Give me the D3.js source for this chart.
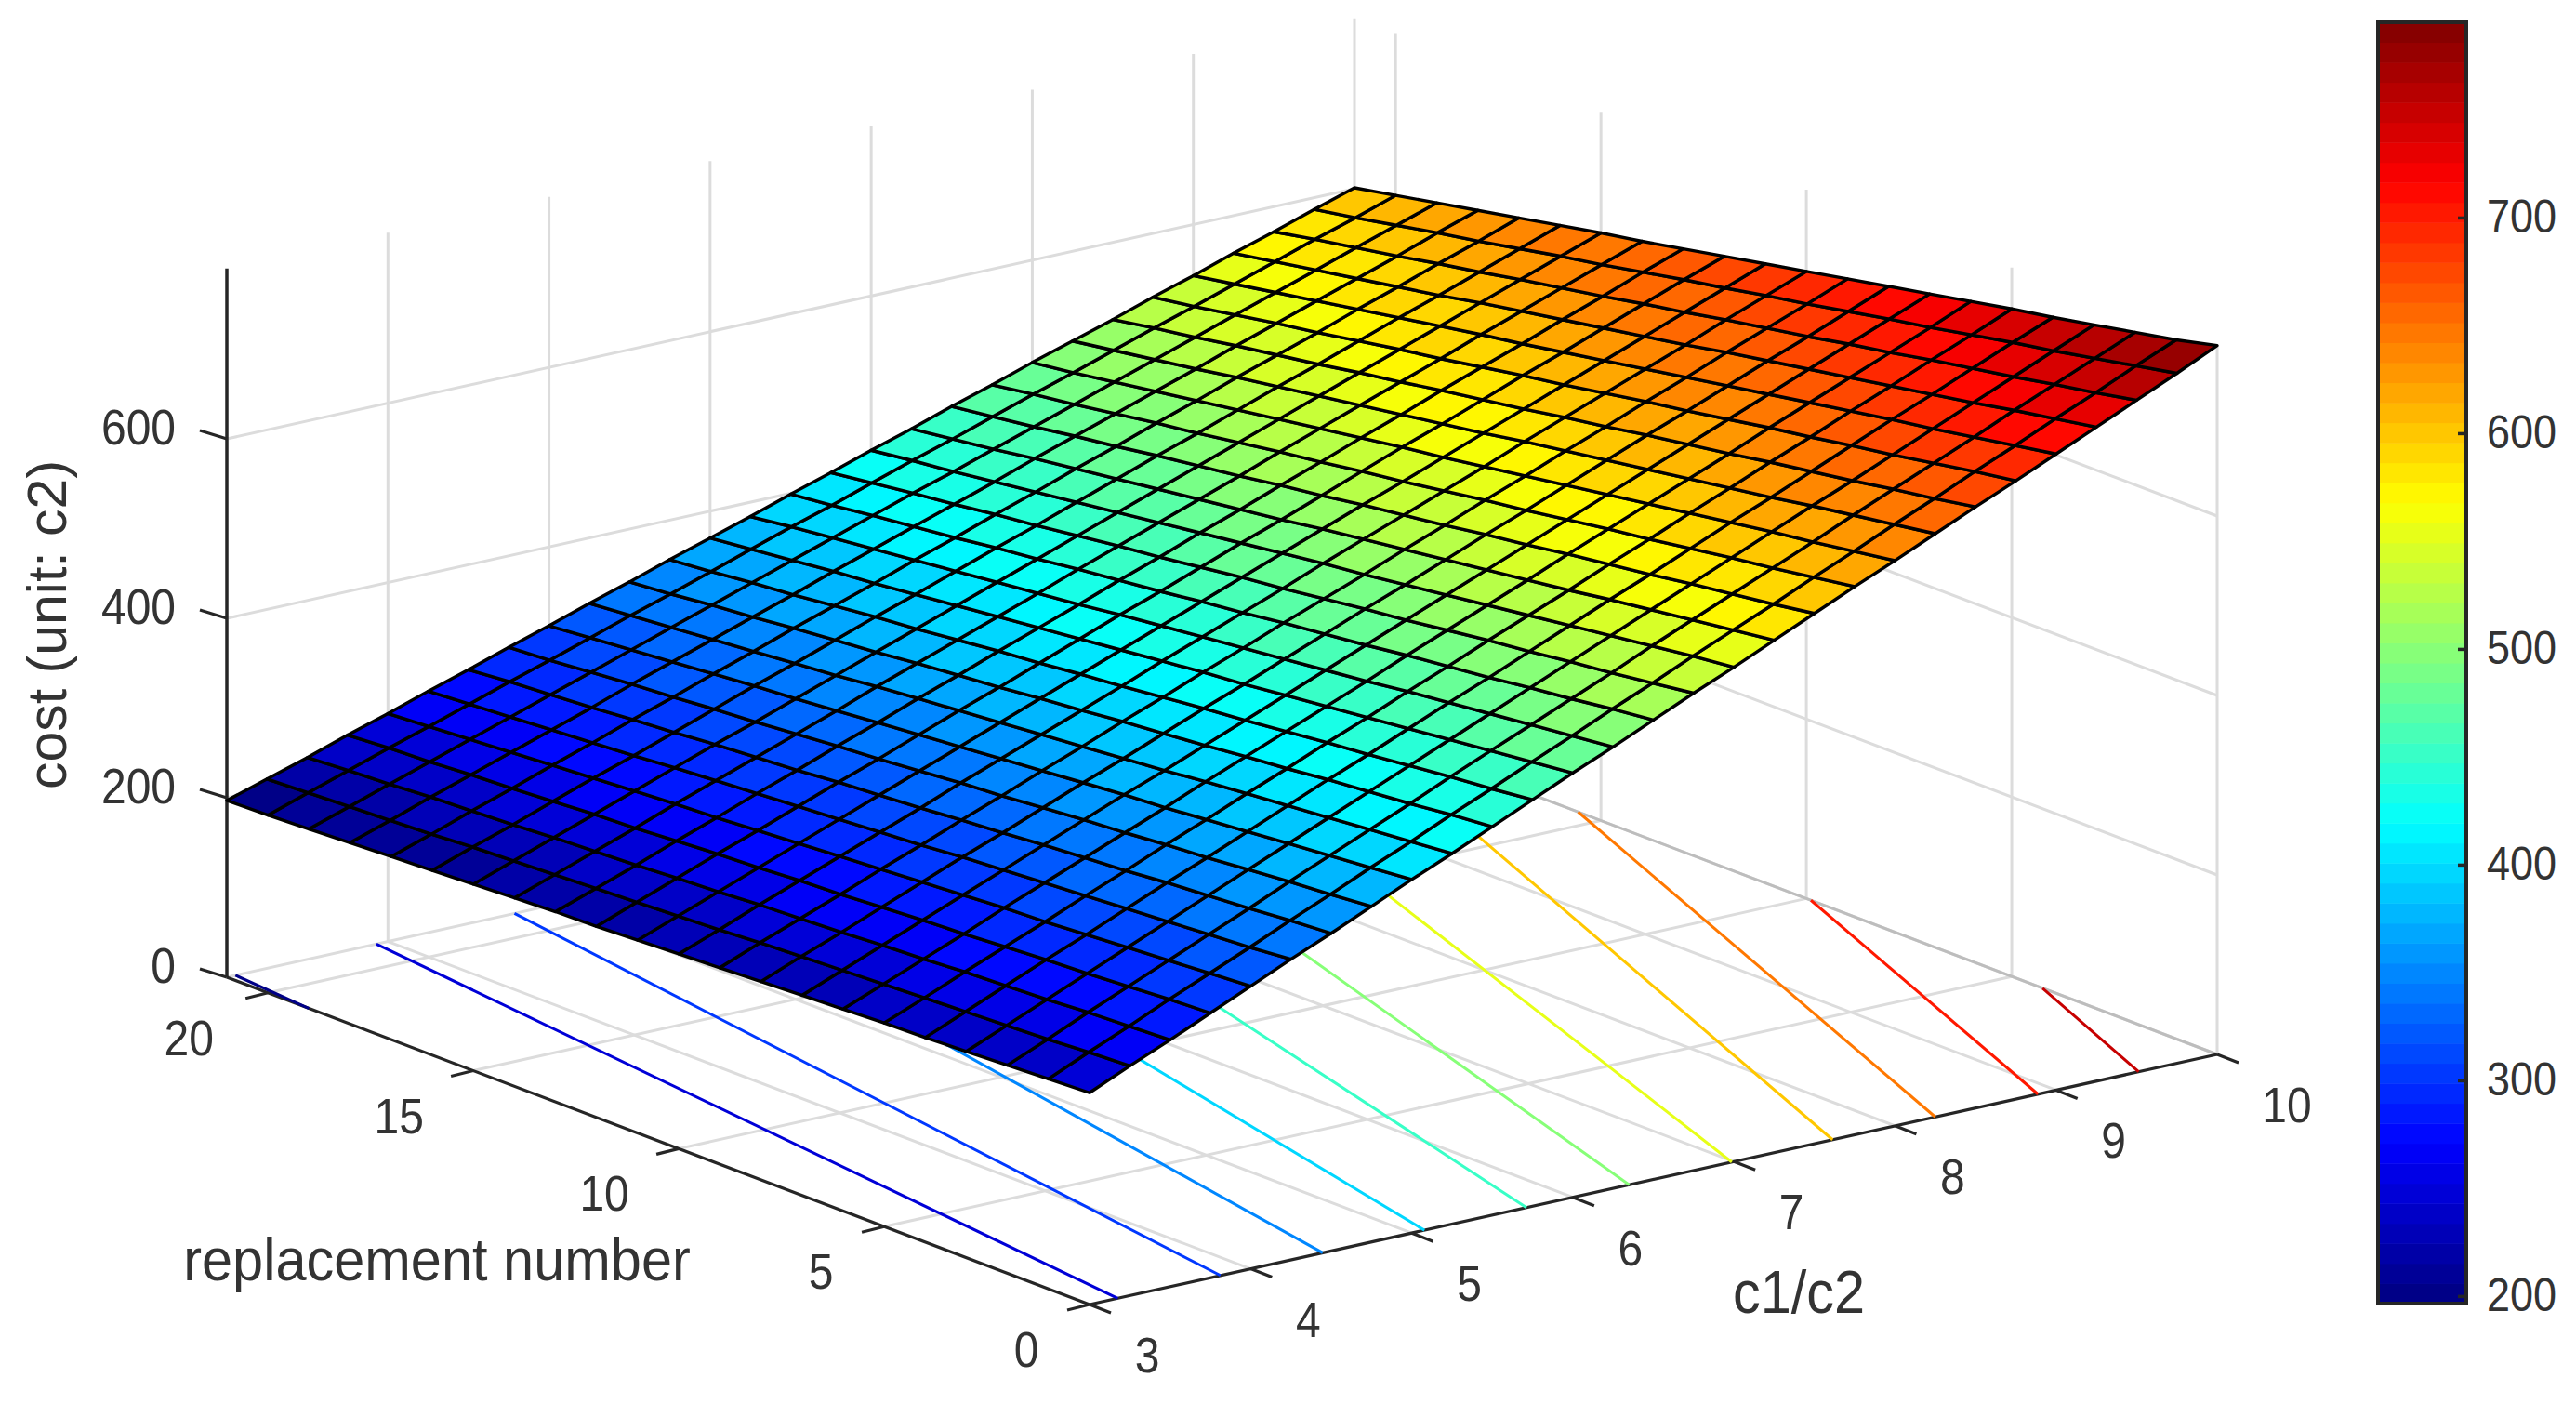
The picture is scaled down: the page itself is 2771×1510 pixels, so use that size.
<!DOCTYPE html>
<html>
<head>
<meta charset="utf-8">
<title>cost surface</title>
<script src="https://cdn.jsdelivr.net/npm/d3@7"></script>
<style>
  html, body { margin: 0; padding: 0; background: #fff; }
  text { font-family: "Liberation Sans", Arial, sans-serif; fill: #333; }
</style>
</head>
<body>
<div id="chart"></div>
<script>
// --------------- Data ---------------
const ratioValues = [3, 3.25, 3.5, 3.75, 4, 4.25, 4.5, 4.75, 5, 5.25, 5.5, 5.75, 6, 6.25, 6.5, 6.75, 7, 7.25, 7.5, 7.75, 8, 8.25, 8.5, 8.75, 9, 9.25, 9.5, 9.75, 10];
const replacementValues = [0, 1, 2, 3, 4, 5, 6, 7, 8, 9, 10, 11, 12, 13, 14, 15, 16, 17, 18, 19, 20, 21];
// one row per replacement number, one column per c1/c2 value
const costRows = [
  [236,256,275,295,315,335,354,374,394,413,433,453,473,492,512,532,551,571,591,611,630,650,670,689,709,729,749,769,790],
  [234,254,273,293,312,331,351,370,390,409,429,448,468,487,507,526,546,565,584,604,623,643,662,682,701,721,740,760,779],
  [232,251,271,290,309,328,347,367,386,405,424,444,463,482,501,520,540,559,578,597,616,636,655,674,693,713,732,751,770],
  [230,249,268,287,306,325,344,363,382,401,420,439,458,477,496,515,534,553,572,591,610,629,647,666,685,704,723,742,761],
  [228,247,266,285,303,322,341,359,378,397,416,434,453,472,490,509,528,547,565,584,603,621,640,659,678,696,715,734,752],
  [227,245,264,282,300,319,337,356,374,393,411,430,448,467,485,504,522,540,559,577,596,614,633,651,670,688,707,725,744],
  [225,243,261,279,298,316,334,352,370,389,407,425,443,461,480,498,516,534,553,571,589,607,625,644,662,680,698,716,735],
  [223,241,259,277,295,313,331,349,367,384,402,420,438,456,474,492,510,528,546,564,582,600,618,636,654,672,690,708,726],
  [221,239,256,274,292,310,327,345,363,380,398,416,433,451,469,487,504,522,540,557,575,593,611,628,646,664,681,699,717],
  [219,237,254,271,289,306,324,341,359,376,394,411,429,446,464,481,498,516,533,551,568,586,603,621,638,656,673,690,708],
  [217,234,252,269,286,303,320,338,355,372,389,406,424,441,458,475,493,510,527,544,561,579,596,613,630,647,665,682,699],
  [215,232,249,266,283,300,317,334,351,368,385,402,419,436,453,470,487,504,521,537,554,571,588,605,622,639,656,673,690],
  [213,230,247,264,280,297,314,330,347,364,380,397,414,431,447,464,481,497,514,531,548,564,581,598,614,631,648,665,681],
  [212,228,244,261,277,294,310,327,343,360,376,393,409,425,442,458,475,491,508,524,541,557,574,590,606,623,639,656,672],
  [210,226,242,258,275,291,307,323,339,356,372,388,404,420,437,453,469,485,501,518,534,550,566,582,599,615,631,647,663],
  [208,224,240,256,272,288,304,319,335,351,367,383,399,415,431,447,463,479,495,511,527,543,559,575,591,607,623,639,655],
  [206,222,237,253,269,284,300,316,332,347,363,379,394,410,426,441,457,473,489,504,520,536,551,567,583,598,614,630,646],
  [204,219,235,250,266,281,297,312,328,343,359,374,389,405,420,436,451,467,482,498,513,529,544,559,575,590,606,621,637],
  [202,217,233,248,263,278,293,309,324,339,354,369,385,400,415,430,445,461,476,491,506,521,537,552,567,582,597,613,628],
  [200,215,230,245,260,275,290,305,320,335,350,365,380,395,410,425,439,454,469,484,499,514,529,544,559,574,589,604,619],
  [198,213,228,243,257,272,287,301,316,331,345,360,375,390,404,419,434,448,463,478,492,507,522,536,551,566,581,595,610],
  [197,211,225,240,254,269,283,298,312,327,341,356,370,384,399,413,428,442,457,471,486,500,514,529,543,558,572,587,601],
];
const contourLevels = [200, 250, 300, 350, 400, 450, 500, 550, 600, 650, 700, 750];
const ratioTicks = [3, 4, 5, 6, 7, 8, 9, 10];
const replacementTicks = [0, 5, 10, 15, 20];
const costTicks = [0, 200, 400, 600];
const colorbarTicks = [200, 300, 400, 500, 600, 700];

// --------------- Constants ---------------
const WIDTH = 2771;
const HEIGHT = 1510;
const RATIO_DOMAIN = [3, 10];
const REPLACEMENT_DOMAIN = [0, 21];
const COST_MAX = 790;
const COLOR_LIMITS = [196.5, 790.5];
const GRID_COLOR = "#dcdcdc";
const AXIS_COLOR = "#262626";

// floor corners of the axes box, in page pixels
const CORNER_FRONT = [1172, 1403];
const CORNER_LEFT = [244, 1051];
const CORNER_RIGHT = [2385, 1134];

// jet with 64 steps, same as the matlab default of that time
function jetColor(i) {
  const t = (i + 0.5) / 64;
  const ramp = (v) => Math.max(0, Math.min(1, v));
  const r = ramp(Math.min(4 * t - 1.5, -4 * t + 4.5));
  const g = ramp(Math.min(4 * t - 0.5, -4 * t + 3.5));
  const b = ramp(Math.min(4 * t + 0.5, -4 * t + 2.5));
  return d3.rgb(r * 255, g * 255, b * 255).formatHex();
}
const color = d3.scaleQuantize().domain(COLOR_LIMITS).range(d3.range(64).map(jetColor));

// --------------- Scales ---------------
const uScale = d3.scaleLinear().domain(RATIO_DOMAIN).range([0, 1]);
const vScale = d3.scaleLinear().domain(REPLACEMENT_DOMAIN).range([0, 1]);
const zScale = d3.scaleLinear().domain([0, 200]).range([0, 193]);

const project = (ratio, replacement, cost) => {
  const u = uScale(ratio);
  const v = vScale(replacement);
  return [
    CORNER_FRONT[0] + u * (CORNER_RIGHT[0] - CORNER_FRONT[0]) + v * (CORNER_LEFT[0] - CORNER_FRONT[0]),
    CORNER_FRONT[1] + u * (CORNER_RIGHT[1] - CORNER_FRONT[1]) + v * (CORNER_LEFT[1] - CORNER_FRONT[1]) - zScale(cost),
  ];
};

const svg = d3
  .select("#chart")
  .append("svg")
  .attr("width", WIDTH)
  .attr("height", HEIGHT)
  .style("display", "block");

const segment = (group, a, b, stroke, width) =>
  group
    .append("line")
    .attr("x1", a[0])
    .attr("y1", a[1])
    .attr("x2", b[0])
    .attr("y2", b[1])
    .attr("stroke", stroke)
    .attr("stroke-width", width);

// the reference is a little stretched vertically, text too
const label = (x, y, str, size, anchor = "middle", rotate = 0) =>
  svg
    .append("text")
    .attr("transform", `translate(${x},${y}) rotate(${rotate}) scale(1,${rotate ? 1 : 1.1})`)
    .attr("text-anchor", anchor)
    .attr("dy", "0.36em")
    .style("font-size", `${size}px`)
    .text(str);

// --------------- Grid ---------------
const [cMin, cMax] = RATIO_DOMAIN;
const [nMin, nMax] = REPLACEMENT_DOMAIN;
const grid = svg.append("g").attr("data-container", "grid");

ratioTicks.filter((c) => c > cMin).forEach((c) => {
  segment(grid, project(c, nMin, 0), project(c, nMax, 0), GRID_COLOR, 3);
  segment(grid, project(c, nMax, 0), project(c, nMax, COST_MAX), GRID_COLOR, 3);
});
replacementTicks.forEach((n) => {
  if (n > nMin) segment(grid, project(cMin, n, 0), project(cMax, n, 0), GRID_COLOR, 3);
  segment(grid, project(cMax, n, 0), project(cMax, n, COST_MAX), GRID_COLOR, 3);
});
costTicks.filter((z) => z > 0).forEach((z) => {
  segment(grid, project(cMin, nMax, z), project(cMax, nMax, z), GRID_COLOR, 3);
  segment(grid, project(cMax, nMax, z), project(cMax, nMin, z), GRID_COLOR, 3);
});
segment(grid, project(cMin, nMax, 0), project(cMax, nMax, 0), GRID_COLOR, 3);
segment(grid, project(cMax, nMax, 0), project(cMax, nMin, 0), "#bdbdbd", 3);

// --------------- Axes ---------------
const axes = svg.append("g").attr("data-container", "axes");
segment(axes, project(cMin, nMin, 0), project(cMin, nMax, 0), AXIS_COLOR, 3.2);
segment(axes, project(cMin, nMin, 0), project(cMax, nMin, 0), AXIS_COLOR, 3.2);
segment(axes, project(cMin, nMax, 0), project(cMin, nMax, COST_MAX), AXIS_COLOR, 3.5);

ratioTicks.forEach((c) => {
  const p = project(c, nMin, 0);
  segment(axes, p, [p[0] + 23, p[1] + 9], AXIS_COLOR, 3.2);
  label(p[0] + (c === 10 ? 75 : 62), p[1] + 54, c, 48);
});
replacementTicks.forEach((n) => {
  const p = project(cMin, n, 0);
  segment(axes, p, [p[0] - 24, p[1] + 6], AXIS_COLOR, 3.2);
  label(p[0] - (n === 20 ? 85 : n >= 10 ? 80 : 68), p[1] + 48, n, 48);
});
costTicks.forEach((z) => {
  const p = project(cMin, nMax, z);
  segment(axes, p, [p[0] - 29, p[1] - 9], AXIS_COLOR, 3.2);
  label(p[0] - 55, p[1] - 13, z, 48, "end");
});

label(470, 1353, "replacement number", 59.5);
label(1935, 1388, "c1/c2", 59.5);
label(50, 672, "cost (unit: c2)", 59, "middle", -90);

// --------------- Contours on the floor ---------------
const crossing = (a, b, level) => (level - a) / (b - a);

function contourPoints(level) {
  const points = [];
  costRows.forEach((row, j) => {
    for (let k = 0; k < row.length - 1; k++) {
      if ((row[k] - level) * (row[k + 1] - level) <= 0 && row[k] !== row[k + 1]) {
        const t = crossing(row[k], row[k + 1], level);
        points.push([ratioValues[k] + t * (ratioValues[k + 1] - ratioValues[k]), replacementValues[j]]);
        break;
      }
    }
  });
  // the line can also leave through the first or the last column
  [0, ratioValues.length - 1].forEach((k) => {
    for (let j = 0; j < costRows.length - 1; j++) {
      const a = costRows[j][k];
      const b = costRows[j + 1][k];
      if ((a - level) * (b - level) < 0) {
        points.push([ratioValues[k], replacementValues[j] + crossing(a, b, level)]);
      }
    }
  });
  points.sort((p, q) => p[1] - q[1]);
  // the rounded costs make the middle wobble, the lines in the plot are straight
  return [points[0], points[points.length - 1]];
}

const floorLine = d3.line().x((d) => project(d[0], d[1], 0)[0]).y((d) => project(d[0], d[1], 0)[1]);

svg
  .append("g")
  .attr("data-container", "contours")
  .selectAll("path")
  .data(contourLevels)
  .enter()
  .append("path")
  .attr("d", (level) => floorLine(contourPoints(level)))
  .attr("fill", "none")
  .attr("stroke", (level) => color(level))
  .attr("stroke-width", 3);

// --------------- Surface ---------------
const cells = [];
d3.range(replacementValues.length - 1).forEach((j) => {
  d3.range(ratioValues.length - 1).forEach((k) => {
    cells.push({
      corners: [[k, j], [k + 1, j], [k + 1, j + 1], [k, j + 1]],
      value: d3.mean([costRows[j][k], costRows[j][k + 1], costRows[j + 1][k], costRows[j + 1][k + 1]]),
    });
  });
});

const cellPath = d3.line().curve(d3.curveLinearClosed);

svg
  .append("g")
  .attr("data-container", "surface")
  .selectAll("path")
  .data(cells)
  .enter()
  .append("path")
  .attr("d", (d) =>
    cellPath(d.corners.map(([k, j]) => project(ratioValues[k], replacementValues[j], costRows[j][k])))
  )
  .attr("fill", (d) => color(d.value))
  .attr("stroke", "#000")
  .attr("stroke-width", 3.4)
  .attr("stroke-linejoin", "round");

// --------------- Colorbar ---------------
const BAR_LEFT = 2558;
const BAR_RIGHT = 2653;
const barScale = d3.scaleLinear().domain(COLOR_LIMITS).range([1402, 24]);
const bar = svg.append("g").attr("data-container", "colorbar");

bar
  .selectAll("rect")
  .data(color.range())
  .enter()
  .append("rect")
  .attr("x", BAR_LEFT)
  .attr("width", BAR_RIGHT - BAR_LEFT)
  .attr("y", (d) => barScale(color.invertExtent(d)[1]))
  .attr("height", (d) => barScale(color.invertExtent(d)[0]) - barScale(color.invertExtent(d)[1]) + 0.5)
  .attr("fill", (d) => d);

const barAxis = svg
  .append("g")
  .attr("transform", `translate(${BAR_RIGHT},0)`)
  .call(d3.axisRight(barScale).tickValues(colorbarTicks).tickSize(-9).tickPadding(22));

barAxis.select(".domain").remove();
barAxis.selectAll("line").attr("stroke", AXIS_COLOR).attr("stroke-width", 3.5);
barAxis
  .selectAll("text")
  .attr("transform", "scale(1,1.1)")
  .style("font-family", '"Liberation Sans", Arial, sans-serif')
  .style("font-size", "45px")
  .style("fill", "#333");

bar
  .append("rect")
  .attr("x", BAR_LEFT)
  .attr("y", barScale(COLOR_LIMITS[1]))
  .attr("width", BAR_RIGHT - BAR_LEFT)
  .attr("height", barScale(COLOR_LIMITS[0]) - barScale(COLOR_LIMITS[1]))
  .attr("fill", "none")
  .attr("stroke", AXIS_COLOR)
  .attr("stroke-width", 4);
</script>
</body>
</html>
